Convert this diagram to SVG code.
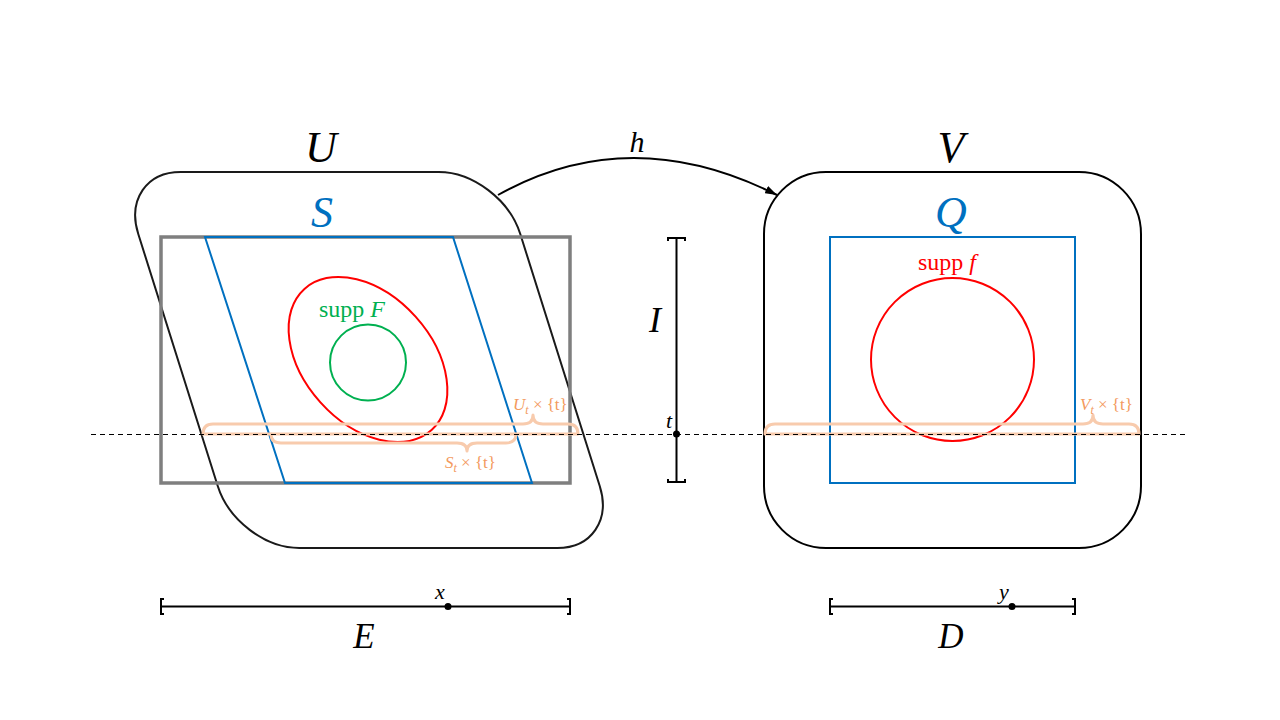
<svg xmlns="http://www.w3.org/2000/svg" width="1280" height="720" viewBox="0 0 1280 720">
<defs>
<style>
.m{font-family:"Liberation Serif","DejaVu Serif",serif;font-style:italic;}
.r{font-family:"Liberation Serif","DejaVu Serif",serif;}
.brace{fill:none;stroke:#F8CBAD;stroke-width:3;stroke-linecap:round;stroke-linejoin:round;}
.ol{fill:#F39A5E;font-family:"Liberation Serif","DejaVu Serif",serif;font-size:17px;}
.bar{fill:none;stroke:#000;stroke-width:2;}
</style>
<marker id="arr" viewBox="0 0 12 8" refX="12" refY="4" markerWidth="12" markerHeight="8" markerUnits="userSpaceOnUse" orient="auto">
<path d="M0,0 L12,4 L0,8 z" fill="#000"/>
</marker>
</defs>
<rect width="1280" height="720" fill="#fff"/>

<g id="U">
<rect x="178" y="172" width="382" height="376" rx="62" ry="62" fill="none" stroke="#1a1a1a" stroke-width="2" vector-effect="non-scaling-stroke" transform="translate(365,360) skewX(17.5) translate(-365,-360)"/>
<text class="m" x="321" y="162" font-size="44" text-anchor="middle">U</text>
</g>

<g id="boxE">
<rect x="161" y="237" width="409" height="246" fill="none" stroke="#7F7F7F" stroke-width="3.5"/>
</g>

<g id="S">
<polygon points="205,237 453,237 532,483 285,483" fill="none" stroke="#0070C0" stroke-width="2"/>
<text class="m" x="322" y="227" font-size="44" fill="#0070C0" text-anchor="middle">S</text>
</g>

<g id="suppF">
<ellipse cx="368" cy="359.5" rx="95" ry="64" transform="rotate(48 368 359.5)" fill="none" stroke="#FF0000" stroke-width="2"/>
<circle cx="368" cy="362.5" r="38" fill="none" stroke="#00B050" stroke-width="2"/>
<text class="r" x="319" y="317" font-size="24" fill="#00B050">supp <tspan class="m">F</tspan></text>
</g>

<g id="V">
<rect x="764" y="172" width="377" height="376" rx="62" ry="62" fill="none" stroke="#000" stroke-width="2"/>
<text class="m" x="951" y="162" font-size="44" text-anchor="middle">V</text>
</g>

<g id="Q">
<rect x="830" y="237" width="245" height="246" fill="none" stroke="#0070C0" stroke-width="2"/>
<text class="m" x="951" y="227" font-size="44" fill="#0070C0" text-anchor="middle">Q</text>
</g>

<g id="suppf">
<circle cx="952.5" cy="359.5" r="81.5" fill="none" stroke="#FF0000" stroke-width="2"/>
<text class="r" x="918" y="270" font-size="24" fill="#FF0000">supp <tspan class="m">f</tspan></text>
</g>

<g id="slices">
<line x1="203" y1="434" x2="578" y2="434" stroke="#F8CBAD" stroke-width="3"/>
<line x1="765" y1="434" x2="1139" y2="434" stroke="#F8CBAD" stroke-width="3"/>
<path class="brace" d="M203,434 Q203,424 213,424 L523,424 Q533,424 533,415 Q533,424 543,424 L568,424 Q578,424 578,434"/>
<path class="brace" d="M271,434 Q271,443 281,443 L457,443 Q467,443 467,451 Q467,443 477,443 L506,443 Q516,443 516,434"/>
<path class="brace" d="M765,434 Q765,424 775,424 L1083,424 Q1093,424 1093,415 Q1093,424 1103,424 L1129,424 Q1139,424 1139,434"/>
<text class="ol" x="513" y="410"><tspan font-style="italic">U</tspan><tspan font-style="italic" font-size="12" dy="4">t</tspan><tspan dy="-4"> × {t}</tspan></text>
<text class="ol" x="445" y="468"><tspan font-style="italic">S</tspan><tspan font-style="italic" font-size="12" dy="4">t</tspan><tspan dy="-4"> × {t}</tspan></text>
<text class="ol" x="1080" y="410"><tspan font-style="italic">V</tspan><tspan font-style="italic" font-size="12" dy="4">t</tspan><tspan dy="-4"> × {t}</tspan></text>
</g>

<g id="I">
<path class="bar" d="M668,241 L668,238 L685,238 L685,241 M676.5,238 L676.5,482 M668,479 L668,482 L685,482 L685,479"/>
<circle cx="676.5" cy="434" r="3.5" fill="#000"/>
<text class="m" x="655" y="332" font-size="36" text-anchor="middle">I</text>
<text class="m" x="669" y="428" font-size="22" text-anchor="middle">t</text>
</g>

<g id="E">
<path class="bar" d="M164,599 L161,599 L161,614 L164,614 M161,606.5 L570,606.5 M567,599 L570,599 L570,614 L567,614"/>
<circle cx="448" cy="606.5" r="3.5" fill="#000"/>
<text class="m" x="440" y="599" font-size="22" text-anchor="middle">x</text>
<text class="m" x="364" y="648" font-size="35" text-anchor="middle">E</text>
</g>

<g id="D">
<path class="bar" d="M833,599 L830,599 L830,614 L833,614 M830,606.5 L1075,606.5 M1072,599 L1075,599 L1075,614 L1072,614"/>
<circle cx="1012" cy="606.5" r="3.5" fill="#000"/>
<text class="m" x="1004" y="599" font-size="22" text-anchor="middle">y</text>
<text class="m" x="951" y="648" font-size="35" text-anchor="middle">D</text>
</g>

<g id="connectors">
<line x1="91" y1="434.5" x2="1188" y2="434.5" stroke="#000" stroke-width="1" stroke-dasharray="5,4"/>
<path d="M498,195 Q630,121 777,195" fill="none" stroke="#000" stroke-width="2" marker-end="url(#arr)"/>
<text class="m" x="637" y="152" font-size="30" text-anchor="middle">h</text>
</g>
</svg>
